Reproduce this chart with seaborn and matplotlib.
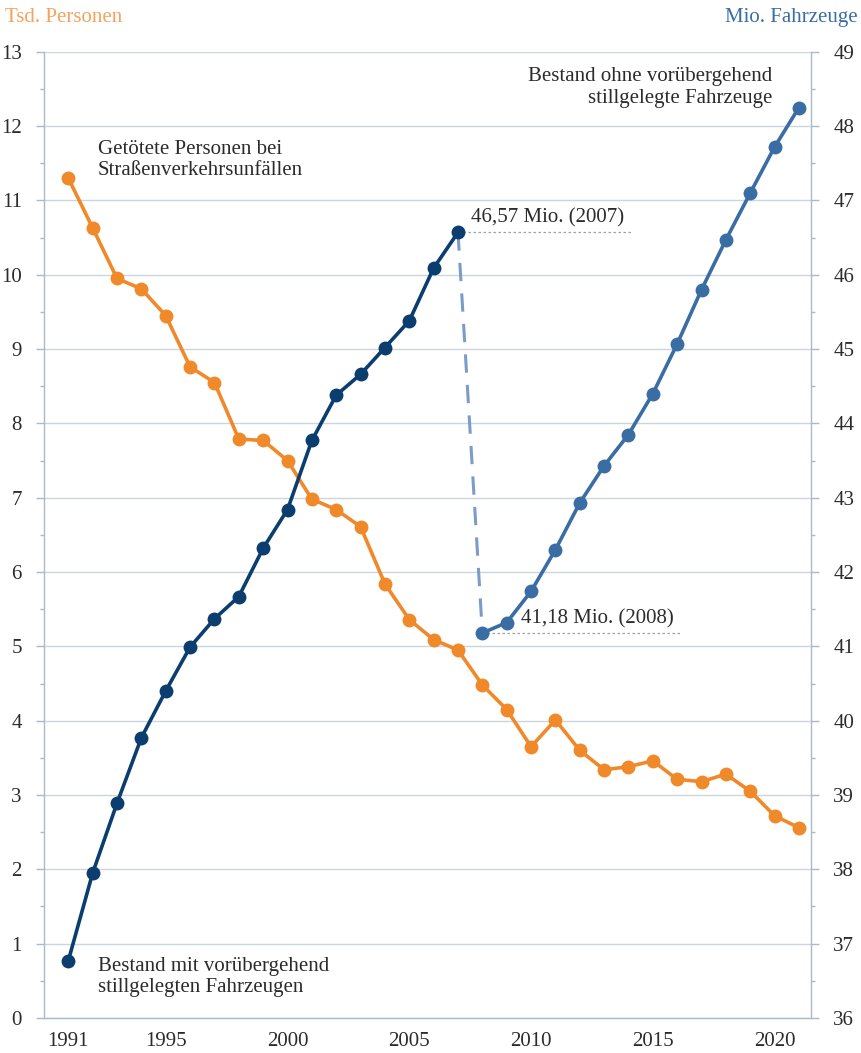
import numpy as np
import pandas as pd
import seaborn as sns
import matplotlib.pyplot as plt
from matplotlib.ticker import MultipleLocator

# Data
years = list(range(1991, 2022))
killed_tsd = [11.30, 10.63, 9.95, 9.81, 9.45, 8.76, 8.55, 7.79, 7.77, 7.50,
              6.98, 6.84, 6.61, 5.84, 5.36, 5.09, 4.95, 4.48, 4.15, 3.65,
              4.01, 3.60, 3.34, 3.38, 3.46, 3.21, 3.18, 3.28, 3.05, 2.72, 2.56]
years_old = list(range(1991, 2008))
stock_old = [36.77, 37.95, 38.89, 39.77, 40.40, 40.99, 41.37, 41.67, 42.32,
             42.84, 43.77, 44.38, 44.66, 45.02, 45.38, 46.09, 46.57]
years_new = list(range(2008, 2022))
stock_new = [41.18, 41.32, 41.74, 42.30, 42.93, 43.43, 43.85, 44.40, 45.07,
             45.80, 46.47, 47.10, 47.72, 48.25]

ORANGE = '#F0892A'
ORANGE_LIGHT = '#F5A35C'
DARK_BLUE = '#0B3D6F'
BLUE = '#3A6DA3'
BLUE_LIGHT = '#7A9CC6'
GRID = '#C9D5DF'
SPINE = '#A8BBCB'
TXT = '#2B2B2B'

sns.set_style('white')
plt.rcParams['font.family'] = ['Liberation Serif', 'DejaVu Serif']

fig = plt.figure(figsize=(8.62, 10.53), dpi=100)
ax = fig.add_axes([0.051, 0.0333, 0.890, 0.9175])
ax2 = ax.twinx()

df_k = pd.DataFrame({'Jahr': years, 'Getoetete': killed_tsd})
df_o = pd.DataFrame({'Jahr': years_old, 'Bestand': stock_old})
df_n = pd.DataFrame({'Jahr': years_new, 'Bestand': stock_new})

line_kw = dict(linewidth=2.6, marker='o', markersize=10, markeredgewidth=0)
sns.lineplot(data=df_k, x='Jahr', y='Getoetete', ax=ax, color=ORANGE, zorder=3, **line_kw)
sns.lineplot(data=df_o, x='Jahr', y='Bestand', ax=ax2, color=DARK_BLUE, zorder=3, **line_kw)
sns.lineplot(data=df_n, x='Jahr', y='Bestand', ax=ax2, color=BLUE, zorder=3, **line_kw)

# connector 2007 -> 2008
ax2.plot([years_old[-1], years_new[0]], [stock_old[-1], stock_new[0]],
         linestyle=(0, (6, 4)), color=BLUE_LIGHT, linewidth=2.2, zorder=2)

# dotted leader lines and labels
ax2.plot([years_old[-1], 2014.15], [stock_old[-1]] * 2, linestyle=(0, (2, 2)),
         color='#A0A0A0', linewidth=0.9, zorder=1)
ax2.text(2007.55, stock_old[-1] + 0.06, '46,57 Mio. (2007)', fontsize=15,
         color=TXT, ha='left', va='bottom')
ax2.plot([years_new[0], 2016.15], [stock_new[0]] * 2, linestyle=(0, (2, 2)),
         color='#A0A0A0', linewidth=0.9, zorder=1)
ax2.text(2009.6, stock_new[0] + 0.06, '41,18 Mio. (2008)', fontsize=15,
         color=TXT, ha='left', va='bottom')

# axes limits and ticks
ax.set_xlim(1990, 2021.5)
ax.set_ylim(0, 13)
ax2.set_ylim(36, 49)
ax.set_xticks(range(1991, 2022), minor=True)
ax.set_xticks([1991, 1995, 2000, 2005, 2010, 2015, 2020])
ax.yaxis.set_major_locator(MultipleLocator(1))
ax.yaxis.set_minor_locator(MultipleLocator(0.5))
ax2.yaxis.set_major_locator(MultipleLocator(1))
ax2.yaxis.set_minor_locator(MultipleLocator(0.5))

ax.grid(axis='y', color=GRID, linewidth=1.0, zorder=0)
ax.set_axisbelow(True)

for a in (ax, ax2):
    for side in ('left', 'right', 'bottom', 'top'):
        a.spines[side].set_color(SPINE)
        a.spines[side].set_linewidth(1.0)
    a.spines['top'].set_visible(False)
ax.spines['right'].set_visible(False)
ax2.spines['left'].set_visible(False)
ax2.spines['bottom'].set_visible(False)

ax.tick_params(axis='both', which='major', direction='out', length=6, width=1,
               color=SPINE, labelsize=15, labelcolor=TXT, pad=4)
ax.tick_params(axis='both', which='minor', direction='out', length=6, width=1,
               color=SPINE)
ax.tick_params(axis='y', which='major', pad=10)
ax.tick_params(axis='y', which='minor', length=3)
ax2.tick_params(axis='y', which='major', direction='out', length=6, width=1,
                color=SPINE, labelsize=15, labelcolor=TXT, pad=10)
ax2.tick_params(axis='y', which='minor', direction='out', length=3, width=1,
                color=SPINE)

ax.set_xlabel('')
ax.set_ylabel('')
ax2.set_ylabel('')

# axis titles
fig.text(0.006, 0.9925, 'Tsd. Personen', color=ORANGE_LIGHT, fontsize=15,
         ha='left', va='top')
fig.text(0.995, 0.9925, 'Mio. Fahrzeuge', color=BLUE, fontsize=15,
         ha='right', va='top')

# series labels
ax.text(1992.2, 11.55, 'Getötete Personen bei\nStraßenverkehrsunfällen',
        fontsize=15, color=TXT, ha='left', va='center', linespacing=1.15)
ax.text(1992.2, 0.55, 'Bestand mit vorübergehend\nstillgelegten Fahrzeugen',
        fontsize=15, color=TXT, ha='left', va='center', linespacing=1.15)
ax.text(2019.9, 12.52, 'Bestand ohne vorübergehend\nstillgelegte Fahrzeuge',
        fontsize=15, color=TXT, ha='right', va='center', linespacing=1.15)

fig.savefig('out.png', dpi=100)
